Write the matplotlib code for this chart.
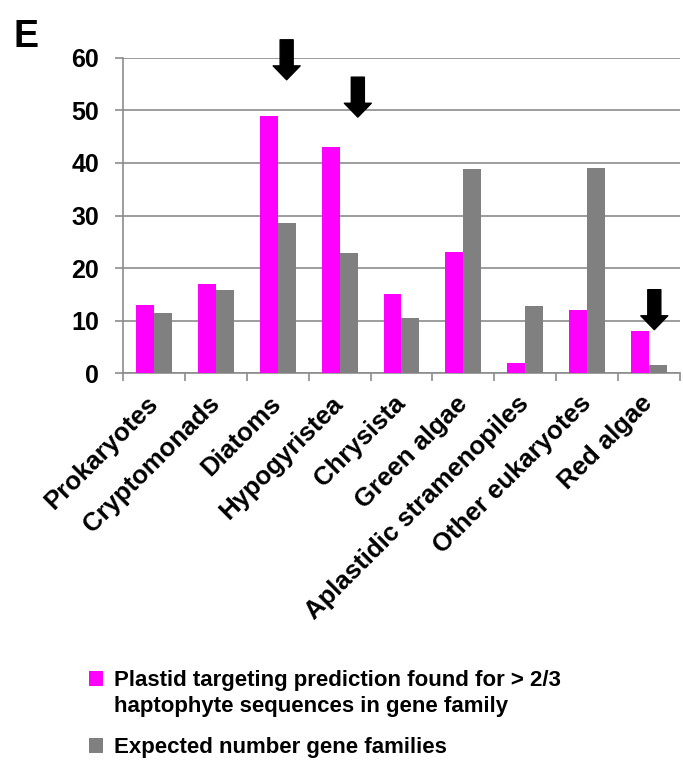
import numpy as np
import matplotlib
matplotlib.use("Agg")
import matplotlib.pyplot as plt
from matplotlib.patches import Patch, Rectangle
from matplotlib.legend_handler import HandlerPatch

# data
categories = ["Prokaryotes", "Cryptomonads", "Diatoms", "Hypogyristea", "Chrysista",
              "Green algae", "Aplastidic stramenopiles", "Other eukaryotes", "Red algae"]
plastid_targeting = [13, 17, 49, 43, 15, 23, 2, 12, 8]
expected_families = [11.5, 15.8, 28.5, 22.8, 10.6, 38.8, 12.8, 39, 1.5]
series_labels = ["Plastid targeting prediction found for > 2/3\nhaptophyte sequences in gene family",
                 "Expected number gene families"]

# highlighted categories: (category index, arrow top, arrow tip)
arrow_marks = [(2, 63.4, 55.8), (3, 56.3, 48.7), (8, 15.9, 8.3)]
arrow_offsets = [0.145, 0.295, 0.085]

PINK = "#ff00ff"
GRAY = "#808080"
GRID = "#8c8c8c"

plt.rcParams["font.family"] = ["Liberation Sans", "DejaVu Sans"]
plt.rcParams["font.weight"] = "bold"


def first_line_square(legend, orig_handle, xdescent, ydescent, width, height, fontsize):
    # square lined up with the first text line, like the original legend
    n_lines = orig_handle.get_label().count("\n")
    shift = 0.68 * fontsize * n_lines
    return Rectangle((-xdescent, -ydescent + shift), width, height)


fig = plt.figure(figsize=(6.83, 7.63), dpi=100)
ax = fig.add_axes([0.180, 0.5107, 0.8156, 0.4137])

x = np.arange(len(categories))
w = 0.29
ax.bar(x - w / 2, plastid_targeting, width=w, color=PINK, zorder=3)
ax.bar(x + w / 2, expected_families, width=w, color=GRAY, zorder=3)

ax.set_xlim(-0.5, len(categories) - 0.5)
ax.set_ylim(0, 60)
ax.set_yticks(np.arange(0, 61, 10))
ax.yaxis.grid(True, color=GRID, linewidth=1.2, zorder=0)
ax.tick_params(axis="y", length=6, width=1.2, color=GRID, pad=11, labelsize=18)

# ticks at category boundaries, labels at centres
ax.set_xticks(np.arange(len(categories) + 1) - 0.5)
ax.set_xticklabels([])
ax.tick_params(axis="x", which="major", length=6, width=1.2, color=GRID)
ax.set_xticks(x, minor=True)
ax.set_xticklabels(categories, minor=True, rotation=45, ha="right", va="center",
                   rotation_mode="anchor", fontsize=18.5, fontweight="bold")
ax.tick_params(axis="x", which="minor", length=0, pad=19)
for lab in ax.get_yticklabels():
    lab.set_fontweight("bold")

for s in ["top", "right"]:
    ax.spines[s].set_visible(False)
for s in ["left", "bottom"]:
    ax.spines[s].set_color(GRID)
    ax.spines[s].set_linewidth(1.2)

for (i, top, tip), dx in zip(arrow_marks, arrow_offsets):
    ax.annotate("", xy=(x[i] + dx, tip), xytext=(x[i] + dx, top),
                arrowprops=dict(arrowstyle="simple,head_width=0.97,head_length=0.5,tail_width=0.47",
                                color="black", shrinkA=0, shrinkB=0, mutation_scale=20),
                annotation_clip=False)

fig.text(0.02, 0.975, "E", fontsize=27, fontweight="bold", va="top", ha="left")

handles = [Patch(facecolor=PINK, label=series_labels[0]),
           Patch(facecolor=GRAY, label=series_labels[1])]
leg = fig.legend(handles=handles, loc="upper left", bbox_to_anchor=(0.130, 0.1225),
                 frameon=False, fontsize=16, handlelength=0.62, handleheight=0.62,
                 handletextpad=0.5, labelspacing=0.9, borderpad=0, borderaxespad=0,
                 handler_map={Patch: HandlerPatch(patch_func=first_line_square)})
for t in leg.get_texts():
    t.set_linespacing(1.35)

fig.savefig("out.png", dpi=100)
